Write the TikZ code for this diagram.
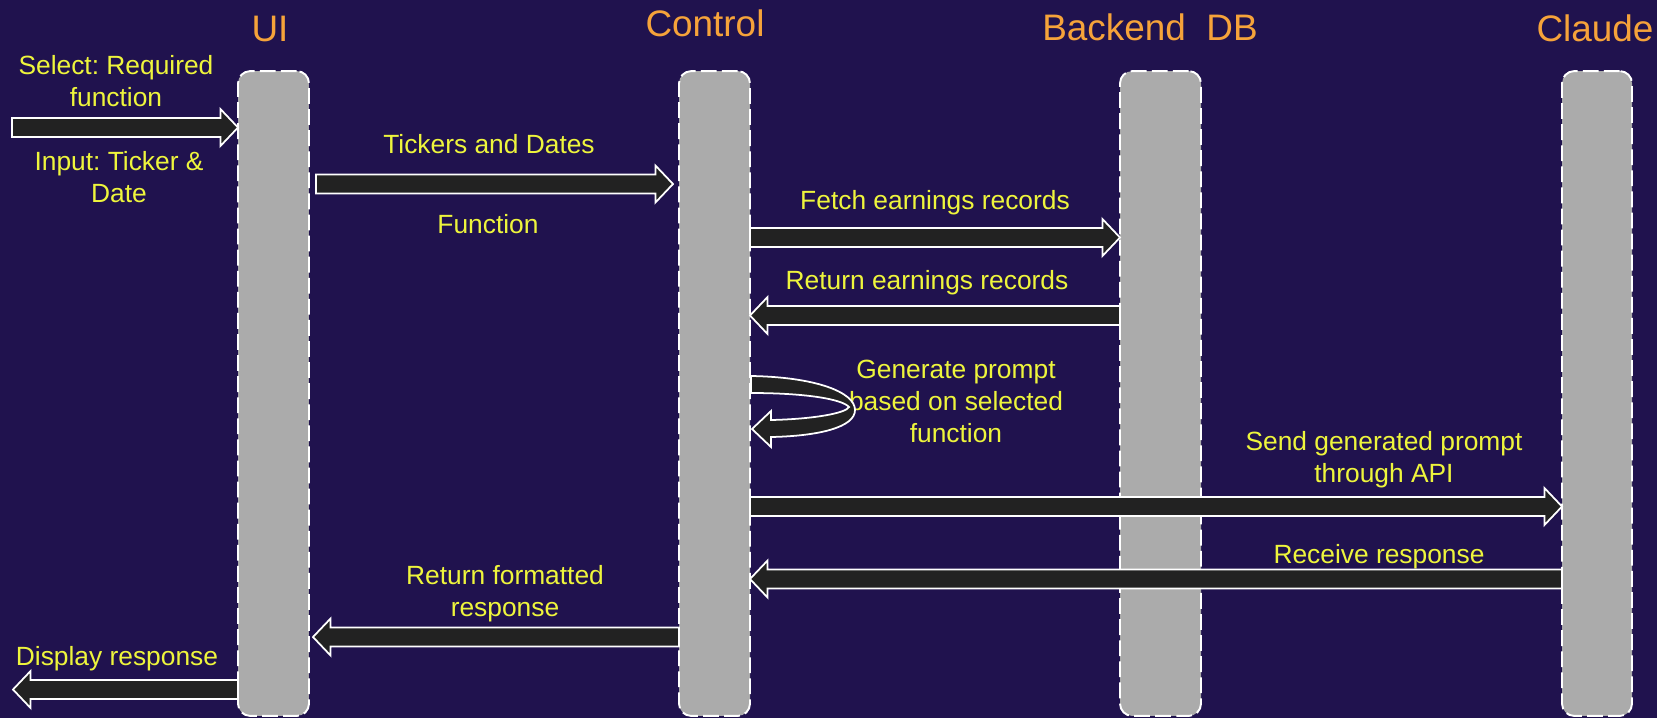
\documentclass[tikz,border=0pt]{standalone}
\usepackage{fontspec}
\setmainfont{Liberation Sans}
\usepackage{tikz}
\usetikzlibrary{calc,positioning}
\usepackage{xcolor}
\definecolor{bgnavy}{RGB}{32,18,78}
\definecolor{lanegray}{RGB}{171,171,171}
\definecolor{arrowfill}{RGB}{34,34,34}
\definecolor{labelyellow}{RGB}{238,245,60}
\definecolor{headorange}{RGB}{246,163,58}
\frenchspacing

\begin{document}
\begin{tikzpicture}[x=0.02cm,y=-0.02cm]
    \tikzstyle{lifeline}=[rectangle, fill=lanegray, draw=white, line width=1.1pt, dash pattern=on 9pt off 3pt, rounded corners=7pt, inner sep=0pt, outer sep=0pt, minimum height=12.9cm]
    \tikzstyle{head}=[headorange, anchor=base, inner sep=0pt, font=\fontsize{21}{25}\selectfont]
    \tikzstyle{lbl}=[labelyellow, anchor=base, align=center, inner sep=0pt, font=\fontsize{15}{18}\selectfont]
    \tikzstyle{blockarrow}=[draw=white, fill=arrowfill, line width=1pt, line join=miter,
        to path={
            ($(\tikztostart)+(0,-9.5)$) -- ($(\tikztotarget)!10pt!(\tikztostart)+(0,-9.5)$)
            -- ($(\tikztotarget)!10pt!(\tikztostart)+(0,-18.5)$) -- (\tikztotarget)
            -- ($(\tikztotarget)!10pt!(\tikztostart)+(0,18.5)$)
            -- ($(\tikztotarget)!10pt!(\tikztostart)+(0,9.5)$)
            -- ($(\tikztostart)+(0,9.5)$) -- cycle}]

    % Background
    \fill[bgnavy] (0,0) rectangle (1657,718);
    \useasboundingbox (0,0) rectangle (1657,718);

    % Lifelines
    \node (ui)[lifeline, minimum width=1.42cm] at (273.5,393.5) {};
    \node (ctrl)[lifeline, minimum width=1.42cm] at (714.5,393.5) {};
    \node (db)[lifeline, minimum width=1.62cm] at (1160.5,393.5) {};
    \node (claude)[lifeline, minimum width=1.40cm] at (1597,393.5) {};

    % Headers
    \node (uihead)[head] at (270,41) {UI};
    \node (ctrlhead)[head] at (705,36) {Control};
    \node (dbhead)[head] at (1150,40) {Backend\ \ DB};
    \node (claudehead)[head] at (1595,41) {Claude};

    % Message labels (base = last line)
    \node (selectlbl)[lbl] at (116,106) {Select: Required\\function};
    \node (inputlbl)[lbl] at (119,202) {Input: Ticker \&\\Date};
    \node (tickerslbl)[lbl] at (489,153) {Tickers and Dates};
    \node (funclbl)[lbl] at (488,233) {Function};
    \node (fetchlbl)[lbl] at (935,209) {Fetch earnings records};
    \node (returnlbl)[lbl] at (927,289) {Return earnings records};
    \node (genlbl)[lbl] at (956,442) {Generate prompt\\based on selected\\function};
    \node (sendlbl)[lbl] at (1384,482) {Send generated prompt\\through API};
    \node (recvlbl)[lbl] at (1379,563) {Receive response};
    \node (fmtlbl)[lbl] at (505,616) {Return formatted\\response};
    \node (displbl)[lbl] at (117,665) {Display response};

    % Free ends outside the lanes
    \coordinate (usrin) at (12,127.5);
    \coordinate (usrout) at (13,689.5);

    % Messages
    \draw[blockarrow] (usrin) to (ui.west |- usrin);
    \draw[blockarrow] ([xshift=0.14cm]ui.east |- 0,184) to ([xshift=-0.12cm]ctrl.west |- 0,184);
    \draw[blockarrow] (ctrl.east |- 0,237.5) to (db.west |- 0,237.5);
    \draw[blockarrow] (db.west |- 0,315.5) to (ctrl.east |- 0,315.5);
    \draw[blockarrow] (ctrl.east |- 0,506.5) to (claude.west |- 0,506.5);
    \draw[blockarrow] (claude.west |- 0,579) to (ctrl.east |- 0,579);
    \draw[blockarrow] (ctrl.west |- 0,637) to ([xshift=0.08cm]ui.east |- 0,637);
    \draw[blockarrow] (ui.west |- usrout) to (usrout);

    % Self call on Control
    \draw[draw=white, fill=arrowfill, line width=1pt]
        (751,376) .. controls (815,377) and (855,392) .. (855,410)
        .. controls (855,427) and (820,436) .. (771,437) -- (771,447) -- (752,429)
        -- (771,411) -- (771,420) .. controls (815,419) and (846,413) .. (849,407)
        .. controls (842,399) and (805,393) .. (751,393) -- cycle;
\end{tikzpicture}
\end{document}
